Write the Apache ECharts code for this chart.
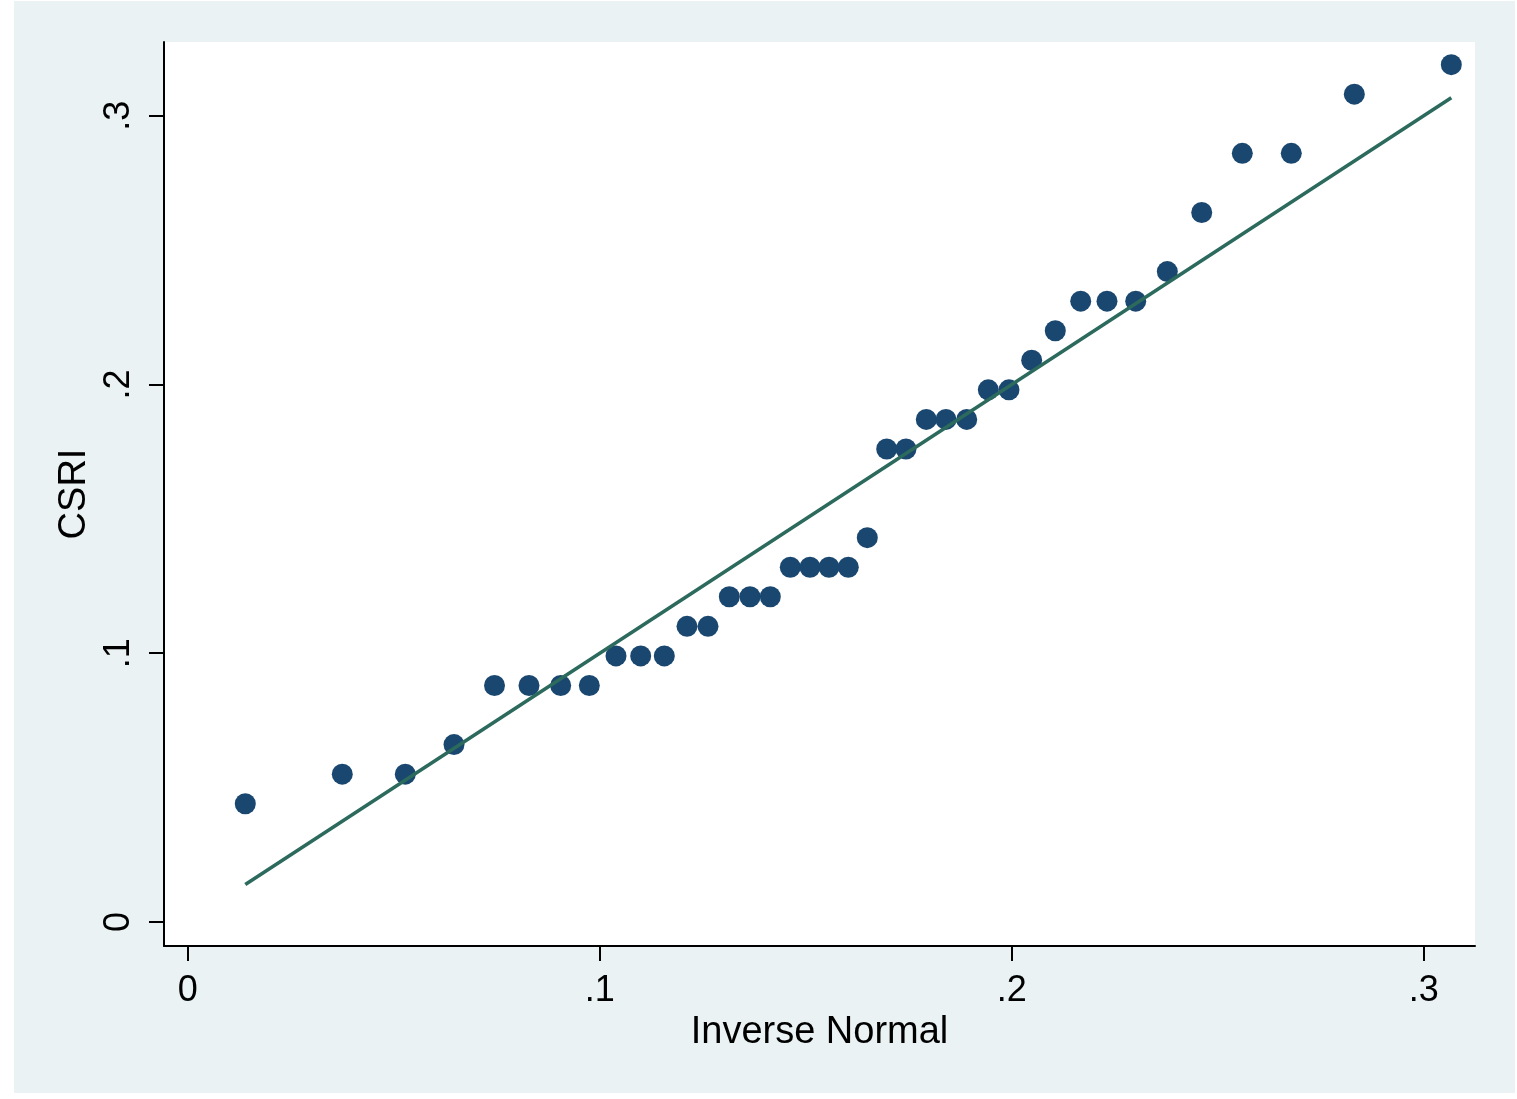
<!DOCTYPE html>
<html>
<head>
<meta charset="utf-8">
<script src="https://cdn.jsdelivr.net/npm/echarts@6/dist/echarts.min.js"></script>
<style>
  html, body { margin: 0; padding: 0; background: #ffffff; }
  #chart { position: absolute; left: 14px; top: 1px; width: 1501px; height: 1092px; }
</style>
</head>
<body>
<div id="chart"></div>
<script>
const inverseNormal = [
  0.01398, 0.03752, 0.05282, 0.06464, 0.07447, 0.08284, 0.09053, 0.09748,
  0.10396, 0.10995, 0.11568, 0.12119, 0.12629, 0.13146, 0.13648, 0.14141,
  0.14626, 0.15104, 0.15566, 0.16034, 0.16495, 0.16966, 0.17434, 0.17927,
  0.18405, 0.18908, 0.19432, 0.19934, 0.20485, 0.21058, 0.21675, 0.22313,
  0.23010, 0.23777, 0.24612, 0.25597, 0.26786, 0.28316, 0.30670
];
const csri = [
  0.044, 0.055, 0.055, 0.066, 0.088, 0.088, 0.088, 0.088,
  0.099, 0.099, 0.099, 0.110, 0.110, 0.121, 0.121, 0.121,
  0.132, 0.132, 0.132, 0.132, 0.143, 0.176, 0.176, 0.187,
  0.187, 0.187, 0.198, 0.198, 0.209, 0.220, 0.231, 0.231,
  0.231, 0.242, 0.264, 0.286, 0.286, 0.308, 0.319
];
// Reference (45-degree) line end points
const refLineX = [0.01398, 0.30670];
const refLineY = [0.01398, 0.30670];

const xTickValues = [0, 0.1, 0.2, 0.3];
const xTickLabels = ['0', '.1', '.2', '.3'];
const yTickValues = [0, 0.1, 0.2, 0.3];
const yTickLabels = ['0', '.1', '.2', '.3'];

const xTitle = 'Inverse Normal';
const yTitle = 'CSRI';

const FONT = '"Liberation Sans", Arial, sans-serif';

function labelFor(values, labels) {
  return function (v) {
    for (let i = 0; i < values.length; i++) {
      if (Math.abs(values[i] - v) < 1e-9) return labels[i];
    }
    return '';
  };
}

const chart = echarts.init(document.getElementById('chart'));
chart.setOption({
  backgroundColor: '#EAF2F3',
  animation: false,
  grid: {
    left: 150, top: 41, width: 1311, height: 904,
    show: true, backgroundColor: '#ffffff', borderWidth: 0
  },
  xAxis: {
    type: 'value',
    min: -0.00575, max: 0.31245,
    name: xTitle,
    nameLocation: 'middle',
    nameGap: 60,
    nameTextStyle: { fontFamily: FONT, fontSize: 38, color: '#000' },
    axisLine: { show: true, onZero: false, lineStyle: { color: '#000', width: 2 } },
    axisTick: { show: true, length: 15, lineStyle: { color: '#000', width: 2 }, customValues: xTickValues },
    axisLabel: {
      customValues: xTickValues,
      formatter: labelFor(xTickValues, xTickLabels),
      fontFamily: FONT, fontSize: 36, color: '#000', margin: 27
    },
    splitLine: { show: false }
  },
  yAxis: {
    type: 'value',
    min: -0.00893, max: 0.32742,
    name: yTitle,
    nameLocation: 'middle',
    nameGap: 68,
    nameRotate: 90,
    nameTextStyle: { fontFamily: FONT, fontSize: 38, color: '#000' },
    axisLine: { show: true, onZero: false, lineStyle: { color: '#000', width: 2 } },
    axisTick: { show: true, length: 15, lineStyle: { color: '#000', width: 2 }, customValues: yTickValues },
    axisLabel: {
      customValues: yTickValues,
      formatter: labelFor(yTickValues, yTickLabels),
      rotate: 90,
      fontFamily: FONT, fontSize: 36, color: '#000', margin: 27
    },
    splitLine: { show: false }
  },
  series: [
    {
      type: 'scatter',
      data: inverseNormal.map((x, i) => [x, csri[i]]),
      symbol: 'circle',
      symbolSize: 21,
      itemStyle: { color: '#1a476f', opacity: 1 },
      z: 2
    },
    {
      type: 'line',
      data: refLineX.map((x, i) => [x, refLineY[i]]),
      showSymbol: false,
      symbol: 'none',
      lineStyle: { color: '#2b6a5c', width: 3.5 },
      z: 3
    }
  ]
});
</script>
</body>
</html>
